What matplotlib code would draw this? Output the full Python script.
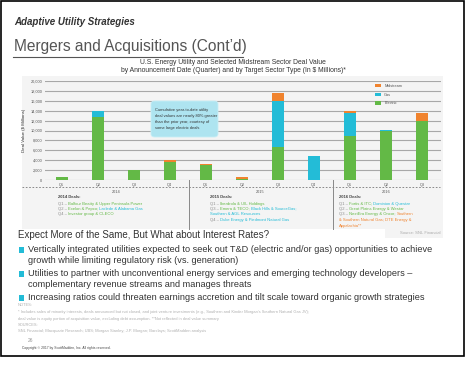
import numpy as np
import matplotlib
matplotlib.use("Agg")
import matplotlib.pyplot as plt
from matplotlib.patches import Rectangle, FancyBboxPatch
from matplotlib.lines import Line2D

# ---- data (US $ millions) ----
quarters = ["Q1", "Q2", "Q3", "Q4", "Q1", "Q2", "Q3", "Q4", "Q1", "Q2", "Q3"]
years = ["2014", "2015", "2016"]
electric = [600, 12650, 2000, 3650, 2950, 300, 6600, 0, 8900, 9900, 12000]
gas = [0, 1350, 0, 0, 0, 0, 9400, 4850, 4550, 200, 0]
midstream = [0, 0, 0, 400, 250, 250, 1500, 0, 550, 0, 1500]
yticks = [0, 2000, 4000, 6000, 8000, 10000, 12000, 14000, 16000, 18000, 20000]

c_elec = "#63b946"
c_gas = "#23bcd7"
c_mid = "#f0832e"
c_grey = "#8a8a8a"

W, H = 466, 375
fig = plt.figure(figsize=(W / 100, H / 100), dpi=100)
plt.rcParams['font.family'] = ['Liberation Sans', 'DejaVu Sans']


def fx(x):
    return x / W


def fy(y):
    return 1 - y / H


def txt(x, y, s, **kw):
    kw.setdefault("va", "center")
    return fig.text(fx(x), fy(y), s, **kw)


# slide frame
fig.add_artist(Rectangle((fx(1), fy(356)), fx(464) - fx(1), fy(1) - fy(356),
                         fill=False, ec="black", lw=1.2, transform=fig.transFigure))

# header
txt(14, 22, "Adaptive Utility Strategies", fontsize=7, fontweight="bold",
    style="italic", color="#333333", family=["Liberation Sans Narrow", "Liberation Sans"])
txt(14, 46, "Mergers and Acquisitions (Cont\u2019d)", fontsize=11.2, color="#555555")
fig.add_artist(Line2D([fx(13), fx(243)], [fy(57), fy(57)], color="#555555", lw=0.8))

# chart title
txt(233, 63, "U.S. Energy Utility and Selected Midstream Sector Deal Value",
    fontsize=4.9, ha="center", color="#333333")
txt(233, 71, "by Announcement Date (Quarter) and by Target Sector Type (In $ Millions)*",
    fontsize=4.9, ha="center", color="#333333")

# grey panel
fig.add_artist(Rectangle((fx(22), fy(238)), fx(443) - fx(22), fy(76) - fy(238),
                         fc="#f4f4f4", ec="none", transform=fig.transFigure, zorder=-5))
fig.add_artist(Rectangle((fx(15), fy(242)), fx(385) - fx(15), fy(229) - fy(242),
                         fc="white", ec="none", transform=fig.transFigure, zorder=-4))

# bar chart
ax = fig.add_axes([fx(45), fy(180), fx(441) - fx(45), fy(81) - fy(180)])
ax.set_facecolor("none")
x = np.arange(len(quarters))
bw = 0.33
ax.bar(x, electric, bw, color=c_elec, zorder=3, label="Electric")
ax.bar(x, gas, bw, bottom=electric, color=c_gas, zorder=3, label="Gas")
bottom2 = np.array(electric) + np.array(gas)
ax.bar(x, midstream, bw, bottom=bottom2, color=c_mid, zorder=3, label="Midstream")
ax.set_xlim(-0.47, 10.53)
ax.set_ylim(0, 20000)
ax.set_yticks(yticks)
ax.set_yticklabels(["{:,}".format(v) for v in yticks], fontsize=2.8, color="#555555")
ax.set_xticks(x)
ax.set_xticklabels(quarters, fontsize=2.8, color="#555555")
ax.tick_params(length=0, pad=2)
ax.grid(axis="y", color="#a8a8a8", lw=0.8, zorder=0)
for s in ax.spines.values():
    s.set_visible(False)
ax.set_ylabel("Deal Value ($ Millions)", fontsize=3.2, color="#333333", labelpad=3)

h, l = ax.get_legend_handles_labels()
leg = ax.legend(h[::-1], l[::-1], loc="upper left", bbox_to_anchor=(0.825, 1.0),
                frameon=False, fontsize=2.8, handlelength=1.6, handleheight=0.9,
                labelspacing=1.2, borderpad=0.3)
for t in leg.get_texts():
    t.set_color("#555555")

# dashed line under quarters, year labels, separators
fig.add_artist(Line2D([fx(22), fx(440)], [fy(187), fy(187)], color="#777777",
                      lw=0.6, ls=(0, (2, 2))))
for yr, xc in zip(years, [116, 260, 386]):
    txt(xc, 192, yr, fontsize=2.8, ha="center", color="#555555")
for xs in [188.5, 332.5]:
    fig.add_artist(Line2D([fx(xs), fx(xs)], [fy(180), fy(229)], color="#888888", lw=0.7))

# callout
fig.add_artist(FancyBboxPatch((fx(151), fy(137)), fx(218) - fx(151), fy(101) - fy(137),
                              boxstyle="round,pad=0,rounding_size=0.008",
                              fc="#aee4f0", ec="#c8eef6", lw=0.6,
                              transform=fig.transFigure, zorder=5))
txt(155, 119, "Cumulative year-to-date utility\ndeal values are nearly 80% greater\n"
    "than the prior year, courtesy of\nsome large electric deals",
    fontsize=2.9, color="#333333", linespacing=1.7, zorder=6)

# deal lists: (x, y, [(text, color), ...])
deals = [
    (58, 197, [("2014 Deals:", "#444444")]),
    (58, 203.5, [("Q1 \u2013 ", c_grey), ("Balfour Beatty & Upper Peninsula Power", c_elec)]),
    (58, 209, [("Q2 \u2013 ", c_grey), ("Exelon & Pepco; ", c_elec), ("Laclede & Alabama Gas", c_gas)]),
    (58, 214.5, [("Q4 \u2013 ", c_grey), ("Investor group & CLECO", c_elec)]),
    (210, 197, [("2015 Deals:", "#444444")]),
    (210, 203.5, [("Q1 \u2013 ", c_grey), ("Iberdrola & UIL Holdings", c_elec)]),
    (210, 209, [("Q3 \u2013 ", c_grey), ("Emera & TECO; ", c_elec), ("Black Hills & SourceGas;", c_gas)]),
    (210, 214.5, [("Southern & AGL Resources", c_gas)]),
    (210, 220, [("Q4 \u2013 ", c_grey), ("Duke Energy & Piedmont Natural Gas", c_gas)]),
    (339, 197, [("2016 Deals:", "#444444")]),
    (339, 203.5, [("Q1 \u2013 ", c_grey), ("Fortis & ITC; ", c_elec), ("Dominion & Questar", c_gas)]),
    (339, 209, [("Q2 \u2013 ", c_grey), ("Great Plains Energy & Westar", c_elec)]),
    (339, 214.5, [("Q3 \u2013 ", c_grey), ("NextEra Energy & Oncor; ", c_elec), ("Southern", c_mid)]),
    (339, 220, [("& Southern Natural Gas; DTE Energy &", c_mid)]),
    (339, 225.5, [("Appalachia**", c_mid)]),
]
fig.canvas.draw()
rend = fig.canvas.get_renderer()
for x0, y0, parts in deals:
    xc = fx(x0)
    for s, col in parts:
        bold = s.endswith("Deals:")
        t = fig.text(xc, fy(y0), s, fontsize=3.0, color=col, va="center",
                     fontweight="bold" if bold else "normal")
        bb = t.get_window_extent(rend)
        xc += bb.width / fig.bbox.width
txt(440, 233, "Source: SNL Financial", fontsize=3.0, ha="right", color="#aaaaaa")

# body text
txt(18, 235, "Expect More of the Same, But What about Interest Rates?", fontsize=7.0, color="#333333")
bullets = [
    (250, ["Vertically integrated utilities expected to seek out T&D (electric and/or gas) opportunities to achieve",
           "growth while limiting regulatory risk (vs. generation)"]),
    (274, ["Utilities to partner with unconventional energy services and emerging technology developers \u2013",
           "complementary revenue streams and manages threats"]),
    (298, ["Increasing ratios could threaten earnings accretion and tilt scale toward organic growth strategies"]),
]
for yb, lines in bullets:
    fig.add_artist(Rectangle((fx(19), fy(yb + 3)), fx(5) - fx(0), fy(0) - fy(6),
                             fc=c_gas, ec="none", transform=fig.transFigure))
    for i, s in enumerate(lines):
        txt(28, yb + 10.5 * i, s, fontsize=6.6, color="#333333")

notes = [
    (305, "NOTES:"),
    (312.5, "* Includes sales of minority interests, deals announced but not closed, and joint venture investments (e.g., Southern and Kinder Morgan\u2019s Southern Natural Gas JV);"),
    (319, "deal value is equity portion of acquisition value, excluding debt assumption. **Not reflected in deal value summary"),
    (325, "SOURCES:"),
    (331, "SNL Financial; Macquarie Research; UBS; Morgan Stanley; J.P. Morgan; Barclays; ScottMadden analysis"),
]
for yn, s in notes:
    txt(18, yn, s, fontsize=2.9, color="#b0b0b0")
txt(28, 340, "26", fontsize=3.5, color="#999999")
txt(22, 348, "Copyright \u00a9 2017 by ScottMadden, Inc. All rights reserved.", fontsize=2.4,
    color="#444444")

fig.savefig("out.png", dpi=100)
